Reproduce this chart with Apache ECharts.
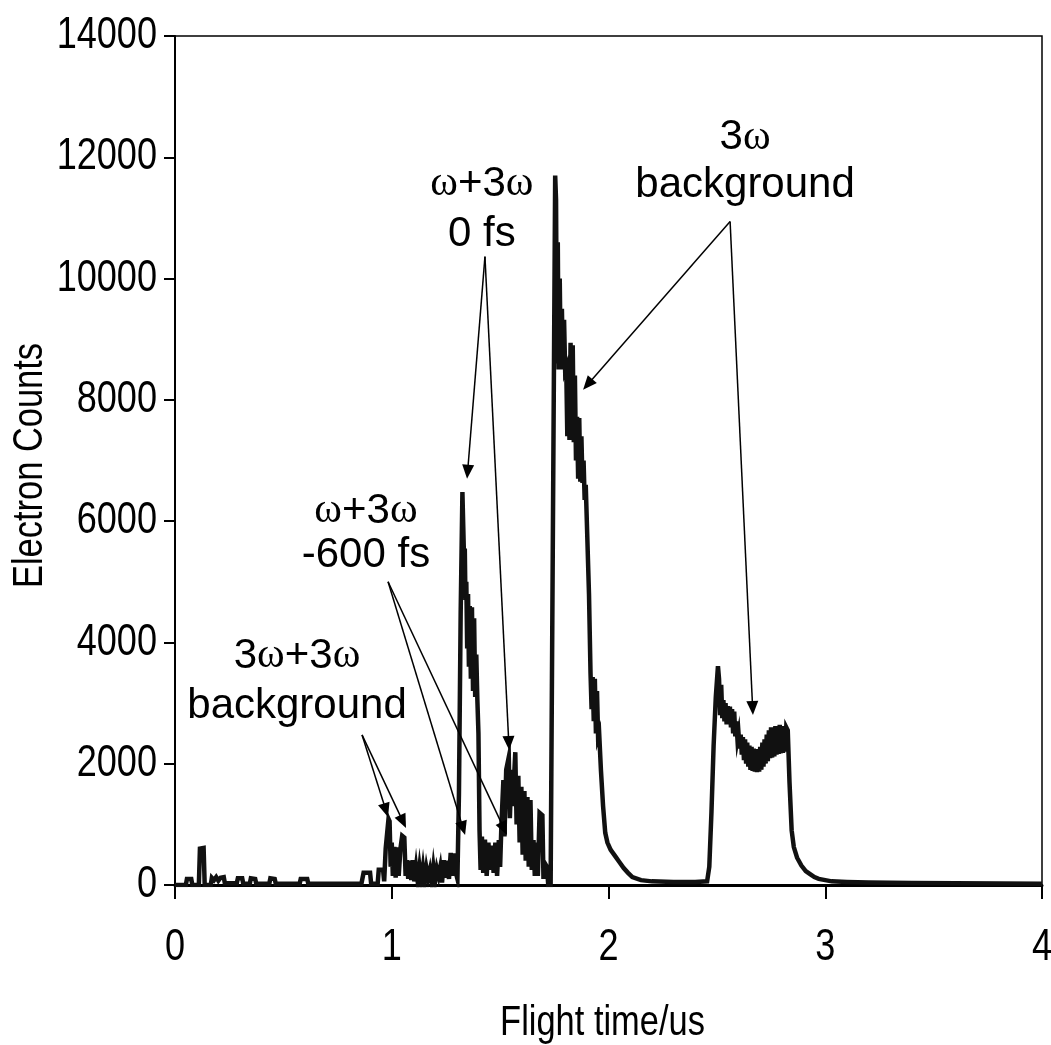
<!DOCTYPE html>
<html>
<head>
<meta charset="utf-8">
<script src="https://cdn.jsdelivr.net/npm/echarts@6/dist/echarts.min.js"></script>
<style>html,body{margin:0;padding:0;background:#fff}#c{width:1051px;height:1045px}</style>
</head>
<body>
<div id="c"></div>
<script>
// ---- data: [flight time (us), electron counts] ----
const segBaseline = [[0,0],[0.05,0],[0.055,100],[0.075,100],[0.08,0],[0.11,0],[0.115,600],[0.132,610],[0.137,0],[0.165,0],[0.17,120],[0.18,80],[0.19,130],[0.2,70],[0.21,120],[0.225,130],[0.23,30],[0.285,30],[0.29,110],[0.31,110],[0.315,20],[0.345,20],[0.35,110],[0.37,100],[0.375,20],[0.435,20],[0.44,110],[0.46,100],[0.465,20],[0.575,20],[0.58,100],[0.61,100],[0.615,20],[0.86,20]];
const segLow = [[0.865,20],[0.87,200],[0.9,200],[0.905,20],[0.935,20],[0.94,250],[0.96,250],[0.965,60],[0.972,600],[0.985,1090],[0.99,1050],[0.995,300],[1.0,700],[1.005,150],[1.012,630],[1.018,120],[1.025,620],[1.032,150],[1.04,600],[1.048,810],[1.058,780],[1.064,150],[1.07,410],[1.076,100],[1.083,400],[1.09,80],[1.097,410],[1.104,60],[1.112,300],[1.12,50],[1.128,300],[1.136,60],[1.144,290],[1.152,40],[1.16,280],[1.168,120],[1.176,250],[1.184,40],[1.192,300],[1.2,60],[1.208,270],[1.216,150],[1.224,300],[1.232,40],[1.24,410],[1.248,120],[1.256,400],[1.264,100],[1.272,530],[1.28,150],[1.288,520],[1.296,200],[1.303,100]];
const segPeak133 = [[1.31,1500],[1.318,4500],[1.326,6480],[1.33,5900],[1.334,5300],[1.337,5550],[1.34,4700],[1.344,5000],[1.348,3900],[1.352,4800],[1.356,3600],[1.36,4600],[1.365,3400],[1.37,4580],[1.375,3200],[1.38,4400],[1.385,3100],[1.39,3800],[1.395,3050],[1.4,2500],[1.405,900],[1.41,250],[1.416,800],[1.422,200],[1.43,750],[1.438,150],[1.446,700],[1.454,250],[1.462,650],[1.47,200],[1.478,700],[1.486,150],[1.494,740],[1.5,300]];
const segPeak155 = [[1.506,1000],[1.515,1730],[1.52,800],[1.528,1900],[1.54,2110],[1.545,1100],[1.552,1900],[1.558,1300],[1.57,2190],[1.576,1000],[1.584,1800],[1.59,700],[1.598,1620],[1.604,500],[1.612,1550],[1.618,400],[1.626,1450],[1.632,300],[1.64,1400],[1.646,250],[1.654,740],[1.66,150],[1.668,700],[1.674,150],[1.682,1190],[1.695,1150],[1.7,100],[1.706,360],[1.716,300],[1.722,0],[1.733,0]];
const segPeak175 = [[1.754,11700],[1.758,11300],[1.762,8600],[1.766,10600],[1.77,8500],[1.775,10000],[1.78,8500],[1.785,9500],[1.79,8500],[1.795,9320],[1.8,8490],[1.805,8540],[1.81,7400],[1.815,8500],[1.82,7340],[1.825,8940],[1.83,7400],[1.835,8900],[1.84,7300],[1.845,8400],[1.85,7000],[1.855,7720],[1.86,6700],[1.865,7700],[1.87,6650],[1.875,7400],[1.88,6630],[1.885,7000],[1.89,6350],[1.895,6600],[1.9,6000],[1.91,4800],[1.917,3500],[1.922,2900],[1.927,3430],[1.932,2700],[1.937,3400],[1.942,2500],[1.947,3200],[1.952,2440],[1.957,2500],[1.965,1900],[1.975,1300],[1.985,860],[1.995,700],[2.01,580],[2.03,480],[2.05,380],[2.07,280],[2.09,200],[2.11,130],[2.15,80],[2.2,60],[2.3,50],[2.4,50],[2.455,60]];
const segPeak250 = [[2.465,300],[2.475,1200],[2.485,2300],[2.495,3100],[2.505,3610],[2.51,3400],[2.515,2800],[2.52,3300],[2.525,2750],[2.53,3050],[2.535,2700],[2.54,3000],[2.545,2650],[2.55,2950],[2.555,2650],[2.56,2940],[2.565,2600],[2.57,2900],[2.575,2500],[2.58,2860],[2.585,2450],[2.59,2700],[2.595,2400],[2.6,2500],[2.605,2250],[2.61,2480],[2.615,2150],[2.62,2440],[2.625,2060],[2.63,2400],[2.635,2000],[2.64,2350],[2.645,1950],[2.65,2300],[2.655,1900],[2.66,2280],[2.665,1880],[2.67,2250],[2.675,1870],[2.68,2240],[2.685,1860],[2.69,2230],[2.695,1870],[2.7,2280],[2.705,1900],[2.71,2350],[2.715,1950],[2.72,2400],[2.725,2000],[2.73,2480],[2.735,2040],[2.74,2550],[2.745,2090],[2.75,2600],[2.755,2100],[2.76,2580],[2.765,2120],[2.77,2620],[2.775,2150],[2.78,2600],[2.785,2160],[2.79,2640],[2.795,2170],[2.8,2610],[2.805,2180],[2.81,2620],[2.815,2200],[2.82,2600],[2.827,2550],[2.835,1700],[2.845,900],[2.855,625],[2.87,450],[2.89,320],[2.91,230],[2.93,180],[2.95,130],[2.97,100],[3.0,80],[3.03,60],[3.1,50],[3.2,40],[3.4,35],[3.6,30],[3.8,25],[4.0,20]];

const xTicks = [0, 1, 2, 3, 4];
const yTicks = [0, 2000, 4000, 6000, 8000, 10000, 12000, 14000];
const xTitle = 'Flight time/us';
const yTitle = 'Electron Counts';

// annotation texts: [rich label, x, y, lineHeight]
const noteTexts = [
  ['3{w|ω}\nbackground', 2.630, 11930, 48],
  ['{w|ω}+3{w|ω}\n0 fs', 1.416, 11140, 50],
  ['{w|ω}+3{w|ω}\n-600 fs', 0.881, 5800, 44],
  ['3{w|ω}+3{w|ω}\nbackground', 0.563, 3360, 50]
];
// annotation arrows: [x0, y0, x1, y1]
const noteArrows = [
  [2.561, 10940, 1.904, 8255],
  [2.561, 10940, 2.665, 2920],
  [1.430, 10362, 1.350, 6815],
  [1.430, 10362, 1.540, 2343],
  [0.983, 5000, 1.329, 936],
  [0.983, 5000, 1.518, 929],
  [0.863, 2475, 0.973, 1233],
  [0.863, 2475, 1.052, 1045]
];

const spectrum = [].concat(segBaseline, segLow, segPeak133, segPeak155, segPeak175, segPeak250);

const sansFont = "'Liberation Sans', Arial, sans-serif";
const serifFont = "'Liberation Serif', 'Times New Roman', serif";
const narrowScale = 0.82;

const chart = echarts.init(document.getElementById('c'), null, {renderer: 'canvas'});
chart.setOption({
  animation: false,
  backgroundColor: '#fff',
  grid: {left: 175, right: 9, top: 36, bottom: 160, outerBoundsMode: 'none', containLabel: false,
         show: true, borderColor: '#000', borderWidth: 1.5, backgroundColor: 'transparent'},
  xAxis: {
    type: 'value', min: xTicks[0], max: xTicks[xTicks.length - 1], interval: 1,
    axisLine: {show: true, onZero: false, lineStyle: {color: '#000', width: 3}},
    axisTick: {show: true, length: 14, lineStyle: {color: '#000', width: 2}},
    axisLabel: {show: false},
    splitLine: {show: false}
  },
  yAxis: {
    type: 'value', min: yTicks[0], max: yTicks[yTicks.length - 1], interval: 2000,
    axisLine: {show: true, onZero: false, lineStyle: {color: '#000', width: 2}},
    axisTick: {show: true, length: 11, lineStyle: {color: '#000', width: 2}},
    axisLabel: {show: false},
    splitLine: {show: false}
  },
  series: [{
    type: 'line',
    data: spectrum,
    showSymbol: false,
    symbol: 'none',
    lineStyle: {color: '#111', width: 4.5, join: 'miter'},
    silent: true,
    markLine: {
      silent: true,
      animation: false,
      symbol: ['none', 'triangle'],
      symbolSize: [12, 14],
      label: {show: false},
      lineStyle: {color: '#000', width: 1.5, type: 'solid'},
      emphasis: {disabled: true},
      data: noteArrows.map(a => [{coord: [a[0], a[1]]}, {coord: [a[2], a[3]]}])
    },
    markPoint: {
      silent: true,
      animation: false,
      symbol: 'circle',
      symbolSize: 1,
      itemStyle: {color: 'rgba(0,0,0,0)'},
      data: noteTexts.map(t => ({
        name: 'note', coord: [t[1], t[2]],
        label: {
          show: true, position: 'inside', formatter: t[0],
          fontFamily: sansFont, fontSize: 42, lineHeight: t[3], color: '#000',
          align: 'center', verticalAlign: 'middle',
          rich: {w: {fontFamily: serifFont, fontSize: 42, lineHeight: t[3], color: '#000'}}
        }
      }))
    }
  }]
});

// tick labels and axis titles in a narrow (horizontally scaled) face, placed via the axes' scales
const g = [];
const yPix0 = chart.convertToPixel({yAxisIndex: 0}, 0);
const xLeft = chart.convertToPixel({xAxisIndex: 0}, xTicks[0]);
const xRight = chart.convertToPixel({xAxisIndex: 0}, xTicks[xTicks.length - 1]);
const yTop = chart.convertToPixel({yAxisIndex: 0}, yTicks[yTicks.length - 1]);
yTicks.forEach(v => {
  g.push({type: 'text', x: xLeft - 18, y: chart.convertToPixel({yAxisIndex: 0}, v), scaleX: narrowScale, silent: true,
    style: {text: String(v), fontFamily: sansFont, fontSize: 44, fill: '#000', align: 'right', verticalAlign: 'middle'}});
});
xTicks.forEach(v => {
  g.push({type: 'text', x: chart.convertToPixel({xAxisIndex: 0}, v), y: yPix0 + 63, scaleX: narrowScale, silent: true,
    style: {text: String(v), fontFamily: sansFont, fontSize: 44, fill: '#000', align: 'center', verticalAlign: 'middle'}});
});
g.push({type: 'text', x: (xLeft + xRight) / 2 - 6, y: yPix0 + 138, scaleX: narrowScale, silent: true,
  style: {text: xTitle, fontFamily: sansFont, fontSize: 42, fill: '#000', align: 'center', verticalAlign: 'middle'}});
g.push({type: 'text', x: 30, y: (yTop + yPix0) / 2 + 5, rotation: Math.PI / 2, scaleX: narrowScale, silent: true,
  style: {text: yTitle, fontFamily: sansFont, fontSize: 42, fill: '#000', align: 'center', verticalAlign: 'middle'}});
chart.setOption({graphic: g});
</script>
</body>
</html>
